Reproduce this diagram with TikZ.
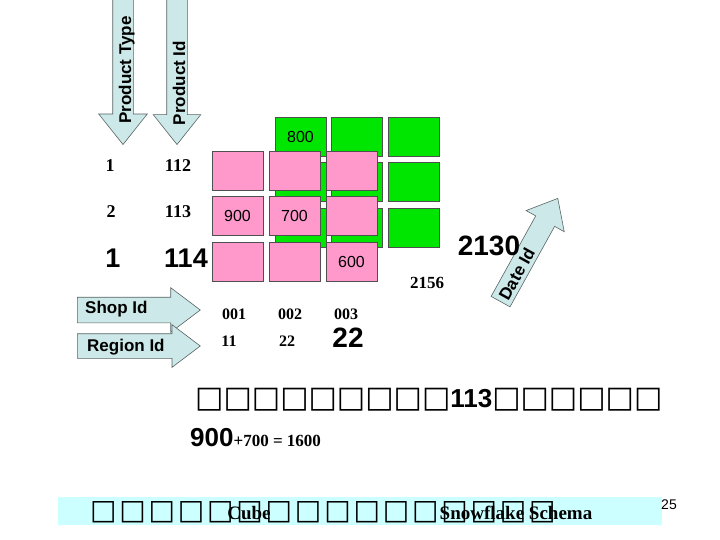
\documentclass[tikz,border=0pt]{standalone}
\usepackage{fontspec}
\setmainfont{Liberation Sans}
\newfontfamily\timesfont{Liberation Serif}
\newfontfamily\tofufont{DejaVu Sans}
\usetikzlibrary{shapes.arrows}
\definecolor{cubePink}{HTML}{FF99CC}
\definecolor{cubeGreen}{HTML}{00E600}
\definecolor{cellLine}{HTML}{505050}
\definecolor{keyCyan}{HTML}{CCE8E8}
\definecolor{keyLine}{HTML}{5A6464}
\definecolor{bandCyan}{HTML}{CCFFFF}
\tikzset{
  pinkcell/.style={rectangle, draw=cellLine, fill=cubePink, line width=0.6pt, minimum width=51pt, minimum height=39pt, inner sep=0pt},
  greencell/.style={rectangle, draw=cellLine, fill=cubeGreen, line width=0.6pt, minimum width=51pt, minimum height=39pt, inner sep=0pt},
  cellnum/.style={font=\fontsize{16}{16}\selectfont, inner sep=0pt},
  keyarrow/.style={single arrow, draw=keyLine, fill=keyCyan, line width=0.6pt, inner xsep=0pt},
  keylabel/.style={font=\bfseries\fontsize{17}{17}\selectfont, inner sep=0pt},
  serifnum/.style={font=\timesfont\bfseries\fontsize{#1}{#1}\selectfont, inner sep=0pt},
  bignum/.style={font=\bfseries\fontsize{#1}{#1}\selectfont, inner sep=0pt},
}

\begin{document}
\begin{tikzpicture}[x=1pt,y=1pt]
  \useasboundingbox (0,0) rectangle (720,-540);
  \clip (0,0) rectangle (720,-540);

  % back layer of the cube
  \foreach \i in {0,1,2}
    \foreach \j in {0,1,2}
      \node[greencell] (g\i\j) at (300.5+56.5*\i, -136.5-45.5*\j) {};
  \node[cellnum] (v800) at (g00) {800};

  % front layer of the cube
  \foreach \i in {0,1,2}
    \foreach \j in {0,1,2}
      \node[pinkcell] (p\i\j) at (237.5+57*\i, -170.5-45.5*\j) {};
  \node[cellnum] (v900) at (p01) {900};
  \node[cellnum] (v700) at (p11) {700};
  \node[cellnum] (v600) at (p22) {600};

  % key arrows
  \node[keyarrow, rotate=-90, anchor=tip, minimum height=160pt, inner ysep=10pt, single arrow head extend=14pt, single arrow tip angle=77] (ptype) at (123,-145) {};
  \node[keyarrow, rotate=-90, anchor=tip, minimum height=160pt, inner ysep=10pt, single arrow head extend=13.5pt, single arrow tip angle=77] (pid) at (177,-145) {};
  \node[keyarrow, anchor=tail, minimum height=123pt, inner ysep=12.5pt, single arrow head extend=9.5pt, single arrow tip angle=74] (shop) at (77,-310) {};
  \node[keyarrow, anchor=tail, minimum height=123pt, inner ysep=12pt, single arrow head extend=9pt, single arrow tip angle=74] (region) at (77,-346) {};
  \node[keyarrow, rotate=61, anchor=tip, minimum height=118pt, inner ysep=10.5pt, single arrow head extend=11pt, single arrow tip angle=80] (date) at (558,-198) {};

  \node[keylabel, rotate=90, anchor=base] (ptypelbl) at (131,-70) {Product Type};
  \node[keylabel, rotate=90, anchor=base] (pidlbl) at (185,-83) {Product Id};
  \node[keylabel, anchor=base west] (shoplbl) at (85,-313) {Shop Id};
  \node[keylabel, anchor=base west] (regionlbl) at (87,-351) {Region Id};
  \node[keylabel, rotate=61, anchor=base] (datelbl) at (522,-277) {Date Id};

  % key values
  \node[serifnum=18] (k1) at (110,-166) {1};
  \node[serifnum=18] (k112) at (178,-166) {112};
  \node[serifnum=18] (k2) at (111,-212) {2};
  \node[serifnum=18] (k113) at (178,-212) {113};
  \node[bignum=27] (kbig1) at (113,-258) {1};
  \node[bignum=27] (k114) at (186,-258) {114};
  \node[serifnum=16] (s001) at (234,-314) {001};
  \node[serifnum=16] (s002) at (290,-314) {002};
  \node[serifnum=16] (s003) at (346,-314) {003};
  \node[serifnum=16] (r11) at (229,-341) {11};
  \node[serifnum=16] (r22) at (287,-341) {22};
  \node[bignum=28] (rbig22) at (348,-338) {22};
  \node[serifnum=17] (d2156) at (427,-283) {2156};
  \node[bignum=28] (d2130) at (489,-246) {2130};

  % caption lines
  \node[anchor=west, inner sep=0pt] (line1) at (195,-400)
    {{\tofufont\bfseries\fontsize{30}{30}\selectfont □□□□□□□□□}{\bfseries\fontsize{26}{26}\selectfont 113}{\tofufont\bfseries\fontsize{30}{30}\selectfont □□□□□□}};
  \node[anchor=base west, inner sep=0pt] (line2) at (190,-446)
    {{\bfseries\fontsize{26}{26}\selectfont 900}{\timesfont\bfseries\fontsize{17}{17}\selectfont +700 = 1600}};

  % footer
  \node[rectangle, fill=bandCyan, minimum width=604pt, minimum height=28pt, inner sep=0pt] (band) at (360,-511) {};
  \node[anchor=west, inner sep=0pt, font=\tofufont\bfseries\fontsize{28}{28}\selectfont\addfontfeature{LetterSpace=10}] (tofu) at (90,-512) {□□□□□□□□□□□□□□□□};
  \node[serifnum=19] (cube) at (249,-513) {Cube};
  \node[serifnum=19] (snow) at (516,-513) {Snowflake Schema};
  \node[font=\fontsize{14}{14}\selectfont, inner sep=0pt] (page) at (669,-505) {25};
\end{tikzpicture}
\end{document}
